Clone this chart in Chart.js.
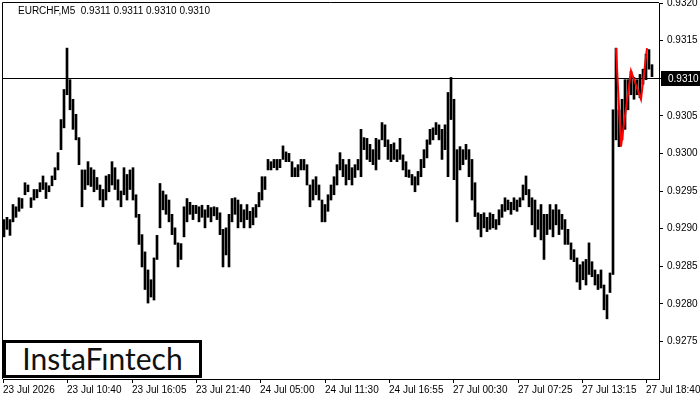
<!DOCTYPE html>
<html>
<head>
<meta charset="utf-8">
<script src="https://cdn.jsdelivr.net/npm/chart.js@4"></script>
<style>
  html, body { margin:0; padding:0; background:#fff; }
  #wrap { position:relative; width:700px; height:400px; }
  #chart { display:block; }
  #title { position:absolute; left:18px; top:5px; font:10px 'Liberation Sans', Arial, sans-serif; color:#000; white-space:pre; }
  #logo { position:absolute; left:3px; top:340px; width:199px; height:38px; box-sizing:border-box;
          border:3px solid #000; background:#fff; font:30px Lato, sans-serif; color:#111;
          text-align:center; line-height:31px; }
</style>
</head>
<body>
<div id="wrap">
  <canvas id="chart" width="700" height="400"></canvas>
  <div id="title">EURCHF,M5  0.9311 0.9311 0.9310 0.9310</div>
  <div id="logo">InstaFıntech</div>
</div>
<script>
// ---- data (M5 bars, high / low) ----
const highs = [
  0.92912,0.92915,0.92912,0.92932,0.92929,0.92941,0.92940,0.92961,0.92958,0.92941,
  0.92952,0.92952,0.92961,0.92970,0.92961,0.92957,0.92970,0.92981,0.93001,0.93045,
  0.93085,0.93140,0.93098,0.93072,0.93052,0.93021,0.92978,0.92978,0.92989,0.92981,
  0.92978,0.92968,0.92958,0.92952,0.92970,0.92972,0.92989,0.92981,0.92965,0.92950,
  0.92981,0.92972,0.92978,0.92981,0.92945,0.92919,0.92892,0.92869,0.92845,0.92832,
  0.92861,0.92891,0.92960,0.92950,0.92945,0.92938,0.92919,0.92901,0.92881,0.92880,
  0.92929,0.92940,0.92935,0.92931,0.92931,0.92929,0.92931,0.92925,0.92931,0.92928,
  0.92929,0.92928,0.92921,0.92899,0.92901,0.92919,0.92940,0.92941,0.92938,0.92932,
  0.92925,0.92932,0.92923,0.92928,0.92932,0.92948,0.92969,0.92969,0.92992,0.92989,
  0.92992,0.92992,0.92992,0.93010,0.93002,0.93000,0.92989,0.92981,0.92985,0.92992,
  0.92992,0.92985,0.92958,0.92965,0.92969,0.92958,0.92938,0.92932,0.92945,0.92958,
  0.92969,0.92985,0.93001,0.92992,0.92985,0.92992,0.92981,0.92985,0.92992,0.93032,
  0.93021,0.93020,0.93012,0.93005,0.93020,0.93018,0.93041,0.93038,0.93018,0.93012,
  0.93014,0.93005,0.93020,0.92998,0.92989,0.92978,0.92972,0.92969,0.92976,0.92992,
  0.93005,0.93018,0.93032,0.93034,0.93041,0.93038,0.93032,0.93038,0.93081,0.93101,
  0.93072,0.93005,0.93009,0.93005,0.93012,0.93005,0.92992,0.92961,0.92921,0.92919,
  0.92921,0.92915,0.92921,0.92919,0.92912,0.92925,0.92932,0.92941,0.92938,0.92935,
  0.92941,0.92938,0.92941,0.92958,0.92970,0.92952,0.92941,0.92938,0.92925,0.92932,
  0.92919,0.92919,0.92932,0.92925,0.92932,0.92925,0.92919,0.92912,0.92899,0.92881,
  0.92872,0.92861,0.92852,0.92856,0.92859,0.92881,0.92856,0.92845,0.92839,0.92845,
  0.92825,0.92812,0.92841,0.93058,0.93140,0.93058,0.93072,0.93098,0.93098,0.93109,
  0.93101,0.93098,0.93105,0.93112,0.93132,0.93138,0.93118
];
const lows = [
  0.92889,0.92899,0.92891,0.92909,0.92915,0.92923,0.92927,0.92945,0.92949,0.92928,
  0.92938,0.92941,0.92949,0.92952,0.92940,0.92949,0.92957,0.92965,0.92978,0.93005,
  0.93034,0.93078,0.93058,0.93032,0.93018,0.92985,0.92929,0.92952,0.92958,0.92956,
  0.92949,0.92952,0.92938,0.92929,0.92938,0.92949,0.92958,0.92952,0.92938,0.92929,
  0.92945,0.92938,0.92952,0.92938,0.92915,0.92879,0.92849,0.92819,0.92801,0.92809,
  0.92805,0.92859,0.92901,0.92925,0.92919,0.92909,0.92892,0.92879,0.92849,0.92859,
  0.92889,0.92909,0.92919,0.92912,0.92920,0.92909,0.92915,0.92901,0.92915,0.92909,
  0.92917,0.92912,0.92892,0.92849,0.92865,0.92849,0.92909,0.92919,0.92901,0.92909,
  0.92901,0.92912,0.92901,0.92905,0.92915,0.92929,0.92938,0.92952,0.92978,0.92978,
  0.92981,0.92978,0.92981,0.92992,0.92989,0.92989,0.92969,0.92969,0.92969,0.92978,
  0.92978,0.92958,0.92929,0.92938,0.92945,0.92938,0.92909,0.92909,0.92923,0.92938,
  0.92945,0.92958,0.92978,0.92969,0.92958,0.92965,0.92958,0.92968,0.92978,0.92969,
  0.93005,0.92992,0.92989,0.92985,0.92978,0.92992,0.93018,0.93009,0.92992,0.92989,
  0.92992,0.92989,0.92992,0.92978,0.92969,0.92968,0.92958,0.92949,0.92958,0.92969,
  0.92981,0.92994,0.93012,0.93018,0.93025,0.93018,0.92992,0.93005,0.92969,0.93045,
  0.92965,0.92909,0.92978,0.92985,0.92992,0.92969,0.92938,0.92916,0.92899,0.92889,
  0.92901,0.92896,0.92899,0.92901,0.92899,0.92905,0.92915,0.92923,0.92925,0.92919,
  0.92925,0.92923,0.92929,0.92938,0.92945,0.92929,0.92905,0.92889,0.92899,0.92885,
  0.92859,0.92892,0.92899,0.92889,0.92905,0.92892,0.92899,0.92879,0.92879,0.92859,
  0.92856,0.92829,0.92819,0.92832,0.92825,0.92839,0.92836,0.92825,0.92819,0.92821,
  0.92792,0.92780,0.92815,0.92839,0.93018,0.93009,0.93018,0.93032,0.93058,0.93078,
  0.93072,0.93078,0.93074,0.93092,0.93098,0.93112,0.93102
];
const firstBar = 1, barStep = 3;   // bar index of the first plotted bar, bars per sample

// red pattern line (bar index / price)
const patternX = [613, 618, 628, 638, 644];
const patternY = [0.93140, 0.93009, 0.93110, 0.93072, 0.93140];

const bidPrice = 0.9310;

const timeTickPos = [0, 64, 129, 193, 257, 322, 386, 450, 515, 579, 643];
const timeLabels = ['23 Jul 2026','23 Jul 10:40','23 Jul 16:05','23 Jul 21:40','24 Jul 05:00',
  '24 Jul 11:30','24 Jul 16:55','27 Jul 00:30','27 Jul 07:25','27 Jul 13:15','27 Jul 18:40'];
const priceTicks = [0.9275,0.9280,0.9285,0.9290,0.9295,0.9300,0.9305,0.9310,0.9315,0.9320];

const FONT = { family: '"Liberation Sans", Arial, sans-serif', size: 10 };

// frame, bid line and price box
const bidLinePlugin = {
  id: 'bidLine',
  beforeDatasetsDraw(chart) {
    const { ctx, chartArea: a, scales: { y } } = chart;
    const py = Math.round(y.getPixelForValue(bidPrice)) + 0.5;
    ctx.save();
    ctx.strokeStyle = '#000';
    ctx.lineWidth = 1;
    ctx.beginPath();
    ctx.moveTo(a.left, py); ctx.lineTo(a.right, py);
    ctx.moveTo(a.left - 0.5, a.bottom); ctx.lineTo(a.left - 0.5, a.top - 0.5); ctx.lineTo(a.right, a.top - 0.5);
    ctx.stroke();
    ctx.restore();
  },
  afterDraw(chart) {
    const { ctx, chartArea: a, scales: { y } } = chart;
    const py = Math.round(y.getPixelForValue(bidPrice));
    ctx.save();
    ctx.fillStyle = '#000';
    ctx.fillRect(a.right + 2, py - 7, chart.width - a.right - 2, 15);
    ctx.fillStyle = '#fff';
    ctx.font = '10px "Liberation Sans", Arial, sans-serif';
    ctx.textBaseline = 'middle';
    ctx.fillText(bidPrice.toFixed(4), a.right + 9, py + 1);
    ctx.restore();
  }
};

new Chart(document.getElementById('chart'), {
  type: 'bar',
  data: {
    datasets: [
      {
        type: 'line',
        data: patternX.map((x, i) => ({ x, y: patternY[i] })),
        borderColor: '#ff0000',
        borderWidth: 2,
        pointRadius: 0,
        tension: 0,
        order: 0,
      },
      {
        data: highs.map((h, i) => ({ x: firstBar + i * barStep, y: [lows[i], h] })),
        backgroundColor: '#000',
        barThickness: 2,
        order: 1,
      }
    ]
  },
  options: {
    responsive: false,
    animation: false,
    devicePixelRatio: 1,
    layout: { padding: { left: 3, top: 3, right: 0, bottom: 0 } },
    plugins: { legend: { display: false }, tooltip: { enabled: false } },
    scales: {
      x: {
        type: 'linear',
        min: 0, max: 656,
        offset: false,
        afterBuildTicks: s => { s.ticks = timeTickPos.map(v => ({ value: v })); },
        afterFit: s => { s.height = 21; s.paddingLeft = 0; s.paddingRight = 0; },
        ticks: {
          autoSkip: false, maxRotation: 0, minRotation: 0, align: 'start',
          color: '#000', font: FONT, padding: 1,
          callback: v => timeLabels[timeTickPos.indexOf(v)],
        },
        grid: { offset: false, drawOnChartArea: false, drawTicks: true, tickLength: 4, color: '#000' },
        border: { display: true, color: '#000' },
      },
      y: {
        position: 'right',
        min: 0.9270, max: 0.9320,
        afterBuildTicks: s => { s.ticks = priceTicks.map(v => ({ value: v })); },
        afterFit: s => { s.width = 41; s.paddingTop = 0; s.paddingBottom = 0; },
        ticks: { color: '#000', font: FONT, padding: 4, callback: v => v.toFixed(4) },
        grid: { drawOnChartArea: false, drawTicks: true, tickLength: 4, color: '#000' },
        border: { display: true, color: '#000' },
      }
    }
  },
  plugins: [bidLinePlugin]
});
</script>
</body>
</html>
